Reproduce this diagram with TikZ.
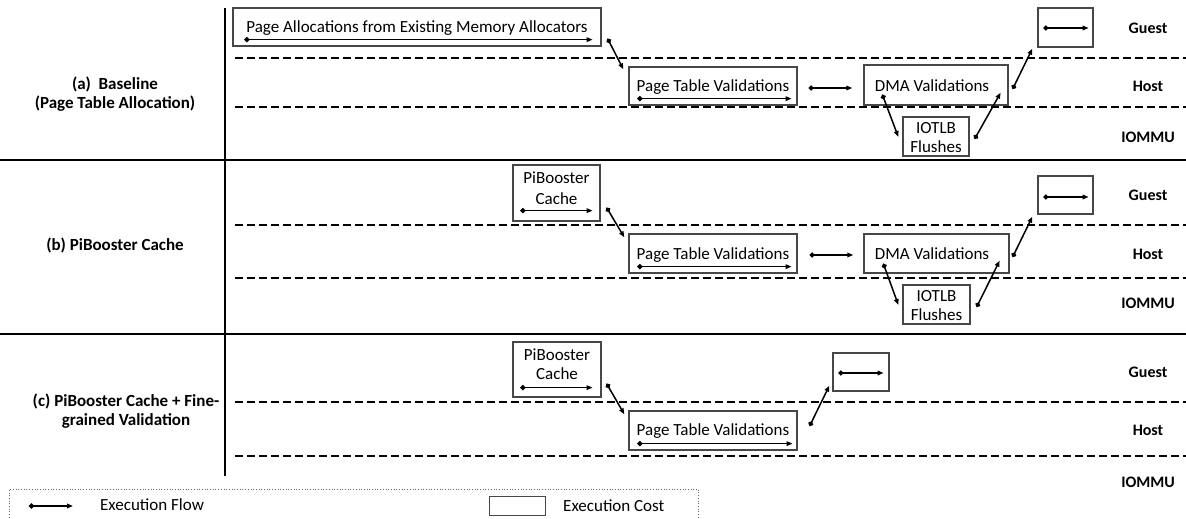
\documentclass[tikz,border=0pt]{standalone}
\usepackage{fontspec}
\setmainfont{Carlito}
\usetikzlibrary{arrows.meta,fit}
\begin{document}
\begin{tikzpicture}[x=1pt,y=-1pt,
  cbox/.style={draw=black!72, line width=1.3pt, inner sep=0pt},
  flow/.style={line width=1.5pt, draw=black, arrows={Circle[length=5pt,width=5pt]-Stealth[length=6pt,width=4.5pt,inset=0pt]}},
  txt/.style={font=\fontsize{17}{19}\selectfont, inner sep=0pt, anchor=base},
  lane/.style={font=\bfseries\fontsize{16}{18}\selectfont, inner sep=0pt, anchor=base},
  sect/.style={font=\bfseries\fontsize{17}{18.5}\selectfont, inner sep=0pt, align=center},
  dashline/.style={line width=2pt, dash pattern=on 8pt off 4pt},
  sepline/.style={line width=2pt}
]
\useasboundingbox (0,0) rectangle (1186,519);

% frame lines
\draw[sepline] (225,8) -- (225,476);
\draw[sepline] (0,160) -- (1186,160);
\draw[sepline] (0,334) -- (1186,334);
\foreach \yy in {58,107,225,278,402,456}
  \draw[dashline] (235,\yy) -- (1186,\yy);

% section labels
\node[sect] (la) at (115,94) {(a)\ \ Baseline\\(Page Table Allocation)};
\node[sect] (lb) at (115,245) {(b) PiBooster Cache};
\node[sect, font=\bfseries\fontsize{17}{19}\selectfont] (lc) at (126,411.5) {(c) PiBooster Cache + Fine-\\grained Validation};

% lane labels
\foreach \gy/\hy/\iy/\s in {33.5/91.5/142.5/a, 200.5/259.5/308.5/b, 377.5/435.5/487.5/c}{
  \node[lane] (guest\s) at (1148,\gy) {Guest};
  \node[lane] (host\s) at (1148,\hy) {Host};
  \node[lane] (iommu\s) at (1148,\iy) {IOMMU};
}

% ---------- section (a)
\node[cbox, fit={(233,8) (601,46)}] (pa) {};
\node[txt] (pat) at (417,32.5) {Page Allocations from Existing Memory Allocators};
\draw[flow] ([shift={(12,-7)}]pa.south west) -- ([shift={(-9,-7)}]pa.south east);

\node[cbox, fit={(629,67) (797,105)}] (ptva) {};
\node[txt] (ptvat) at (713,91.5) {Page Table Validations};
\draw[flow] ([shift={(9,-7)}]ptva.south west) -- ([shift={(-6,-7)}]ptva.south east);

\node[cbox, fit={(864,65) (1008,105)}] (dmaa) {};
\node[txt] (dmaat) at (932,91.5) {DMA Validations};

\node[cbox, fit={(903,117) (969,156)}] (iota) {};
\node[txt] (iota1) at (936,133.5) {IOTLB};
\node[txt] (iota2) at (936,152.5) {Flushes};

\node[cbox, fit={(1038,8) (1093,47)}] (gsta) {};
\draw[flow] ([shift={(6,0.5)}]gsta.west) -- ([shift={(-5,0.5)}]gsta.east);

\draw[flow] ([shift={(6,-8)}]pa.south east) -- ([shift={(-5,3)}]ptva.north west);
\draw[flow] ([shift={(11,2)}]ptva.east) -- ([shift={(-11,3)}]dmaa.west);
\draw[flow] ([shift={(19,-11)}]dmaa.south west) -- ([shift={(-4,0.5)}]iota.west);
\draw[flow] ([shift={(5,2.5)}]iota.east) -- ([shift={(-8,-13)}]dmaa.south east);
\draw[flow] ([shift={(4,4)}]dmaa.east) -- ([shift={(-5,1)}]gsta.south west);

% ---------- section (b)
\node[cbox, fit={(513,165) (600,221)}] (pbb) {};
\node[txt] (pbb1) at (556.5,183.5) {PiBooster};
\node[txt] (pbb2) at (556.5,204.5) {Cache};
\draw[flow] ([shift={(8,-11)}]pbb.south west) -- ([shift={(-8,-11)}]pbb.south east);

\node[cbox, fit={(629,234) (797,273)}] (ptvb) {};
\node[txt] (ptvbt) at (713,259.5) {Page Table Validations};
\draw[flow] ([shift={(9,-7)}]ptvb.south west) -- ([shift={(-6,-7)}]ptvb.south east);

\node[cbox, fit={(864,234) (1009,273)}] (dmab) {};
\node[txt] (dmabt) at (932,259.5) {DMA Validations};

\node[cbox, fit={(903,285) (970,324)}] (iotb) {};
\node[txt] (iotb1) at (936.5,301.5) {IOTLB};
\node[txt] (iotb2) at (936.5,320.5) {Flushes};

\node[cbox, fit={(1038,176) (1093,214)}] (gstb) {};
\draw[flow] ([shift={(6,2)}]gstb.west) -- ([shift={(-5,2)}]gstb.east);

\draw[flow] ([shift={(6,-14)}]pbb.south east) -- ([shift={(-4,4)}]ptvb.north west);
\draw[flow] ([shift={(12,1.5)}]ptvb.east) -- ([shift={(-10,1.5)}]dmab.west);
\draw[flow] ([shift={(20,-10)}]dmab.south west) -- ([shift={(-4,0.5)}]iotb.west);
\draw[flow] ([shift={(6,2.5)}]iotb.east) -- ([shift={(-10,-13)}]dmab.south east);
\draw[flow] ([shift={(3,3.5)}]dmab.east) -- ([shift={(-5,2)}]gstb.south west);

% ---------- section (c)
\node[cbox, fit={(513,342) (601,397)}] (pbc) {};
\node[txt] (pbc1) at (557,360.5) {PiBooster};
\node[txt] (pbc2) at (557,379.5) {Cache};
\draw[flow] ([shift={(8,-10)}]pbc.south west) -- ([shift={(-9,-10)}]pbc.south east);

\node[cbox, fit={(629,411) (797,450)}] (ptvc) {};
\node[txt] (ptvct) at (713,435.5) {Page Table Validations};
\draw[flow] ([shift={(9,-7)}]ptvc.south west) -- ([shift={(-5,-7)}]ptvc.south east);

\node[cbox, fit={(833,353) (889,391)}] (gstc) {};
\draw[flow] ([shift={(6,1)}]gstc.west) -- ([shift={(-6,1)}]gstc.east);

\draw[flow] ([shift={(5,-14)}]pbc.south east) -- ([shift={(-4,4)}]ptvc.north west);
\draw[flow] ([shift={(12,-4.5)}]ptvc.east) -- ([shift={(-3,-6)}]gstc.south west);

% ---------- legend
\node[draw=black!60, dotted, line width=0.7pt, inner sep=0pt, fit={(9,489) (698,525)}] (leg) {};
\coordinate (lfa) at (29,506);
\coordinate (lfb) at (73,506);
\draw[flow] (lfa) -- (lfb);
\node[txt, anchor=base west] (lft) at (100,510.5) {Execution Flow};
\node[cbox, line width=1pt, fit={(489,496) (545,515)}] (lcb) {};
\node[txt, anchor=base west] (lct) at (563,511.5) {Execution Cost};
\end{tikzpicture}
\end{document}
